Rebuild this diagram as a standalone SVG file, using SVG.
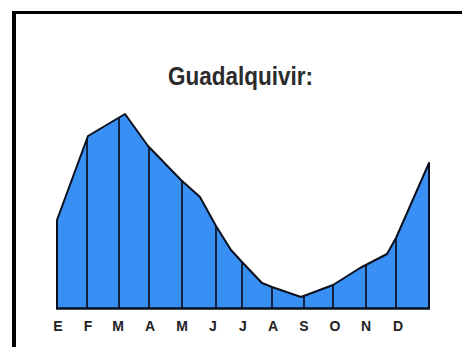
<svg xmlns="http://www.w3.org/2000/svg" width="462" height="347" viewBox="0 0 462 347">
<style>
.frame{fill:#000}
.area{fill:#3990f4;stroke:none}
.curve{fill:none;stroke:#0a0f1e;stroke-width:2;stroke-linejoin:round}
.grid{stroke:#14243f;stroke-width:2}
.base{stroke:#0a0f1e;stroke-width:2.5}
.title{font-family:"Liberation Sans",Arial,sans-serif;font-weight:bold;font-size:26px;fill:#2b2b2b}
.month{font-family:"Liberation Sans",Arial,sans-serif;font-weight:bold;font-size:14px;fill:#222;text-anchor:middle}
</style>
<rect width="462" height="347" fill="#fff"/>
<g id="frame">
<rect class="frame" x="12" y="11" width="450" height="3"/>
<rect class="frame" x="12" y="11" width="4" height="336"/>
</g>
<text id="title" class="title" transform="translate(168,85) scale(0.865,1)" x="0" y="0">Guadalquivir:</text>
<g id="chart">
<polygon class="area" points="57,308 57,220 88,136 125,114 148,146 181,180 200,197 216,226 231,250 242,262 262,283 272,287 301,297 333,285 360,268 387,254 396,238 429,163 429,308"/>
<g id="grid">
<line class="grid" x1="87" y1="138" x2="87" y2="308"/>
<line class="grid" x1="119" y1="117" x2="119" y2="308"/>
<line class="grid" x1="149" y1="147" x2="149" y2="308"/>
<line class="grid" x1="182" y1="181" x2="182" y2="308"/>
<line class="grid" x1="216" y1="226" x2="216" y2="308"/>
<line class="grid" x1="242" y1="262" x2="242" y2="308"/>
<line class="grid" x1="272" y1="287" x2="272" y2="308"/>
<line class="grid" x1="304" y1="296" x2="304" y2="308"/>
<line class="grid" x1="333" y1="285" x2="333" y2="308"/>
<line class="grid" x1="366" y1="265" x2="366" y2="308"/>
<line class="grid" x1="396" y1="238" x2="396" y2="308"/>
</g>
<polyline class="curve" points="57,308 57,220 88,136 125,114 148,146 181,180 200,197 216,226 231,250 242,262 262,283 272,287 301,297 333,285 360,268 387,254 396,238 429,163 429,309"/>
<line class="base" x1="56" y1="308.5" x2="430" y2="308.5"/>
</g>
<g id="months">
<text class="month" x="58" y="331">E</text>
<text class="month" x="88" y="331">F</text>
<text class="month" x="118" y="331">M</text>
<text class="month" x="150" y="331">A</text>
<text class="month" x="182" y="331">M</text>
<text class="month" x="213" y="331">J</text>
<text class="month" x="243" y="331">J</text>
<text class="month" x="273" y="331">A</text>
<text class="month" x="304" y="331">S</text>
<text class="month" x="335" y="331">O</text>
<text class="month" x="366" y="331">N</text>
<text class="month" x="398" y="331">D</text>
</g>
</svg>
